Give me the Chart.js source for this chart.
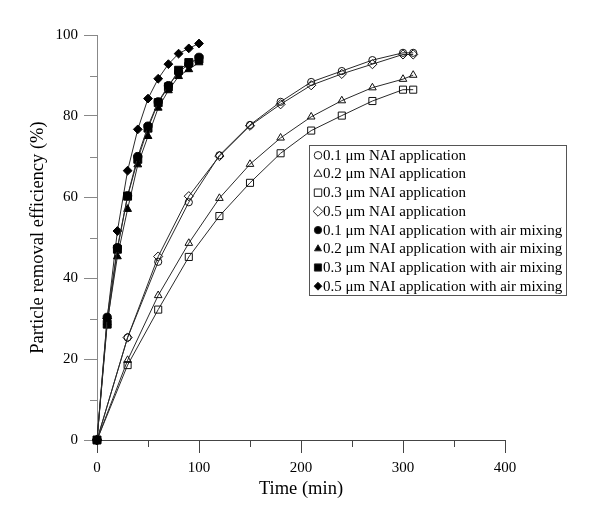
<!DOCTYPE html>
<html>
<head>
<meta charset="utf-8">
<script src="https://cdn.jsdelivr.net/npm/chart.js@4.4.1/dist/chart.umd.min.js"></script>
<style>
html,body{margin:0;padding:0;background:#fff;}
canvas{display:block;}
</style>
</head>
<body>
<canvas id="c" width="598" height="516"></canvas>
<script>
// ---- data ----
const timeNAI = [0, 30, 60, 90, 120, 150, 180, 210, 240, 270, 300, 310];
const nai01 = [0, 25.3, 44.0, 58.7, 70.3, 77.8, 83.5, 88.4, 91.1, 93.8, 95.6, 95.6];
const nai02 = [0, 19.7, 35.7, 48.6, 59.7, 68.1, 74.6, 79.8, 83.8, 87.0, 89.1, 90.1];
const nai03 = [0, 18.5, 32.2, 45.2, 55.3, 63.5, 70.8, 76.4, 80.1, 83.7, 86.5, 86.5];
const nai05 = [0, 25.3, 45.3, 60.2, 70.1, 77.6, 82.9, 87.6, 90.4, 92.8, 95.2, 95.2];

const timeAir = [0, 10, 20, 30, 40, 50, 60, 70, 80, 90, 100];
const air01 = [0, 30.3, 47.5, 60.3, 70.0, 77.5, 83.5, 87.5, 90.8, 92.8, 94.5];
const air02 = [0, 29.0, 45.3, 57.0, 68.0, 75.0, 82.0, 86.3, 89.8, 91.5, 93.2];
const air03 = [0, 28.6, 47.1, 60.2, 69.3, 77.0, 83.3, 87.2, 91.3, 93.2, 94.0];
const air05 = [0, 30.0, 51.6, 66.5, 76.7, 84.3, 89.2, 92.8, 95.4, 96.7, 97.9];

const seriesLabels = [
  '0.1 μm NAI application',
  '0.2 μm NAI application',
  '0.3 μm NAI application',
  '0.5 μm NAI application',
  '0.1 μm NAI application with air mixing',
  '0.2 μm NAI application with air mixing',
  '0.3 μm NAI application with air mixing',
  '0.5 μm NAI application with air mixing'
];
const xTickValues = [0, 100, 200, 300, 400];
const yTickValues = [0, 20, 40, 60, 80, 100];
const xTitle = 'Time (min)';
const yTitle = 'Particle removal efficiency (%)';

// ---- styling ----
const FONT = "'Liberation Serif', 'Times New Roman', serif";
const LINE = '#2a2a2a';
const markerStyles = ['circle', 'triangle', 'rect', 'rectRot', 'circle', 'triangle', 'rect', 'rectRot'];
const markerRadius = { circle: 3.6, triangle: 4.4, rect: 5.0, rectRot: 4.6 };
const filledRadius = { circle: 4.1, triangle: 4.5, rect: 5.6, rectRot: 4.4 };

function pts(xs, ys) { return xs.map((x, i) => ({ x: x, y: ys[i] })); }

const seriesData = [
  pts(timeNAI, nai01), pts(timeNAI, nai02), pts(timeNAI, nai03), pts(timeNAI, nai05),
  pts(timeAir, air01), pts(timeAir, air02), pts(timeAir, air03), pts(timeAir, air05)
];

const datasets = seriesData.map((d, i) => {
  const filled = i >= 4;
  const st = markerStyles[i];
  return {
    label: seriesLabels[i],
    data: d,
    showLine: true,
    borderColor: LINE,
    borderWidth: 1,
    backgroundColor: filled ? '#000' : 'rgba(0,0,0,0)',
    pointStyle: st,
    pointRadius: filled ? filledRadius[st] : markerRadius[st],
    pointBorderWidth: 1,
    pointBorderColor: filled ? '#000' : '#111',
    pointBackgroundColor: filled ? '#000' : 'rgba(0,0,0,0)',
    pointHoverRadius: filled ? filledRadius[st] : markerRadius[st],
    tension: 0,
    clip: false,
    order: filled ? 0 : 1
  };
});

// minor ticks halfway between major ticks
const minorTicks = {
  id: 'minorTicks',
  afterDraw(chart) {
    const ctx = chart.ctx;
    const xs = chart.scales.x, ys = chart.scales.y;
    ctx.save();
    ctx.lineWidth = 1;
    ctx.strokeStyle = '#444';
    for (let i = 0; i < xTickValues.length - 1; i++) {
      const v = (xTickValues[i] + xTickValues[i + 1]) / 2;
      const px = Math.round(xs.getPixelForValue(v)) + 0.5;
      ctx.beginPath();
      ctx.moveTo(px, xs.top);
      ctx.lineTo(px, xs.top + 7);
      ctx.stroke();
    }
    ctx.strokeStyle = '#888';
    for (let i = 0; i < yTickValues.length - 1; i++) {
      const v = (yTickValues[i] + yTickValues[i + 1]) / 2;
      const py = Math.round(ys.getPixelForValue(v)) + 0.5;
      ctx.beginPath();
      ctx.moveTo(ys.right, py);
      ctx.lineTo(ys.right - 7, py);
      ctx.stroke();
    }
    ctx.restore();
  }
};

// boxed legend inside the plot
const boxLegend = {
  id: 'boxLegend',
  afterDraw(chart) {
    const ctx = chart.ctx;
    const left = 309.5, top = 145.5, width = 257, height = 150;
    const rowH = 18.7, firstRow = top + 9.8;
    ctx.save();
    ctx.strokeStyle = '#555';
    ctx.lineWidth = 1;
    ctx.strokeRect(left, top, width, height);
    ctx.font = '15px ' + FONT;
    ctx.textBaseline = 'middle';
    ctx.textAlign = 'left';
    chart.data.datasets.forEach((ds, i) => {
      const cy = firstRow + i * rowH;
      const filled = i >= 4;
      const st = ds.pointStyle;
      ctx.fillStyle = filled ? '#000' : 'rgba(0,0,0,0)';
      ctx.strokeStyle = '#222';
      ctx.lineWidth = 1;
      const r = filled ? filledRadius[st] * 0.9 : markerRadius[st] * 1.05;
      Chart.helpers.drawPoint(ctx, { pointStyle: st, radius: r, borderWidth: 1, rotation: 0 }, left + 8.5, cy);
      ctx.fillStyle = '#000';
      ctx.fillText(ds.label, left + 13.5, cy + 0.5);
    });
    ctx.restore();
  }
};

new Chart(document.getElementById('c'), {
  type: 'scatter',
  data: { datasets: datasets },
  options: {
    responsive: false,
    animation: false,
    devicePixelRatio: 1,
    layout: { padding: { left: 0, top: 35, right: 93, bottom: 0 } },
    plugins: {
      legend: { display: false },
      tooltip: { enabled: false }
    },
    scales: {
      x: {
        type: 'linear',
        min: 0, max: 400,
        afterBuildTicks: (s) => { s.ticks = xTickValues.map(v => ({ value: v })); },
        afterFit: (s) => { s.height = 76; s.paddingLeft = 0; s.paddingRight = 0; },
        grid: { display: true, drawOnChartArea: false, drawTicks: true, tickLength: 13, color: '#444', tickColor: '#444' },
        border: { display: true, color: '#444', width: 1 },
        ticks: { color: '#000', font: { family: FONT, size: 15 }, padding: 6, maxRotation: 0, autoSkip: false },
        title: { display: true, text: xTitle, color: '#000', font: { family: FONT, size: 18.5 }, padding: { top: 0, bottom: 16 } }
      },
      y: {
        type: 'linear',
        min: 0, max: 100,
        afterBuildTicks: (s) => { s.ticks = yTickValues.map(v => ({ value: v })); },
        afterFit: (s) => { s.width = 97; s.paddingTop = 0; s.paddingBottom = 0; },
        grid: { display: true, drawOnChartArea: false, drawTicks: true, tickLength: 13, color: '#888', tickColor: '#888' },
        border: { display: true, color: '#888', width: 1 },
        ticks: { color: '#000', font: { family: FONT, size: 15 }, padding: 6, autoSkip: false },
        title: { display: true, text: yTitle, color: '#000', font: { family: FONT, size: 18.5 }, padding: { top: 27, bottom: 0 } }
      }
    }
  },
  plugins: [minorTicks, boxLegend]
});
</script>
</body>
</html>
